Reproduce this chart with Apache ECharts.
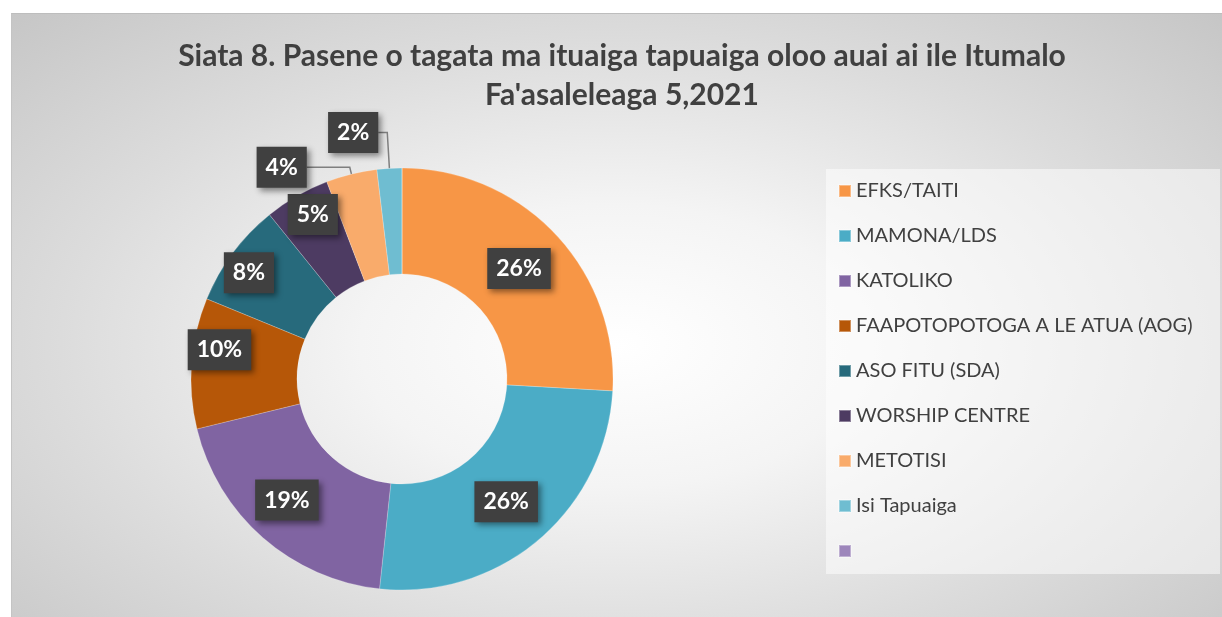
<!DOCTYPE html>
<html>
<head>
<meta charset="utf-8">
<script src="https://cdn.jsdelivr.net/npm/echarts@6/dist/echarts.min.js"></script>
<style>
    html, body { margin: 0; padding: 0; background: #fff; }
    #main {
        position: absolute;
        left: 11px;
        top: 13px;
        width: 1211px;
        height: 604px;
        border-top: 1px solid #bdbdbd;
        border-left: 1px solid #c4c4c4;
        box-sizing: border-box;
        background: radial-gradient(ellipse farthest-corner at 50% 55%, #ffffff 0%, #f4f4f4 30%, #dcdcdc 65%, #c6c6c6 100%);
    }
</style>
</head>
<body>
<div id="main"></div>
<script>
    // categories + shares (percent)
    const categories = ['EFKS/TAITI', 'MAMONA/LDS', 'KATOLIKO', 'FAAPOTOPOTOGA A LE ATUA (AOG)',
        'ASO FITU (SDA)', 'WORSHIP CENTRE', 'METOTISI', 'Isi Tapuaiga', ' '];
    const shares = [25.9, 25.8, 19.5, 10.0, 8.0, 5.0, 3.9, 1.9, 0];
    const colors = ['#F79646', '#4BACC6', '#8064A2', '#B65708', '#276A7C', '#4D3B62', '#F9AB6B', '#6FBDD1', '#9D86BB'];

    let myChart = echarts.init(document.getElementById('main'));

    // small slices get their labels pulled out with a leader line
    let pieData = categories.map(function (name, i) {
        let item = {name: name, value: shares[i]};
        if (i === 6) {
            item.label = {position: 'outside'};
            item.labelLine = {show: true, length: 7, length2: 43};
        } else if (i === 7) {
            item.label = {position: 'outside'};
            item.labelLine = {show: true, length: 36, length2: 9};
        } else if (shares[i] === 0) {
            item.label = {show: false};
        }
        return item;
    });

    // nudges for the labels Excel placed off the ring middle
    let nudge = {2: [-9, 0], 3: [-22, -17], 4: [-24, -10], 5: [-9, -25]};

    let option = {
        animation: false,
        color: colors,
        title: {
            text: "Siata 8. Pasene o tagata ma ituaiga tapuaiga oloo auai ai ile Itumalo\nFa'asaleleaga 5,2021",
            left: 605,
            top: 18,
            textAlign: 'center',
            textStyle: {
                fontFamily: 'Lato',
                fontSize: 30,
                fontWeight: 'bold',
                color: '#404040',
                lineHeight: 39
            }
        },
        legend: {
            orient: 'vertical',
            left: 814,
            top: 155,
            padding: [12, 12, 13, 12],
            itemWidth: 12,
            itemHeight: 12,
            itemGap: 25,
            icon: 'rect',
            backgroundColor: 'rgba(255,255,255,0.5)',
            selectedMode: false,
            textStyle: {
                fontFamily: 'Lato',
                fontSize: 20,
                color: '#404040',
                lineHeight: 20,
                width: 352
            },
            data: categories
        },
        series: [
            {
                type: 'pie',
                center: [390, 365],
                radius: [105, 211],
                startAngle: 90,
                clockwise: true,
                percentPrecision: 0,
                avoidLabelOverlap: false,
                itemStyle: {
                    borderColor: 'rgba(255,255,255,0.35)',
                    borderWidth: 0.6
                },
                emphasis: {scale: false},
                label: {
                    show: true,
                    position: 'inside',
                    formatter: '{d}%',
                    fontFamily: 'Lato',
                    fontSize: 23,
                    fontWeight: 'bold',
                    color: '#ffffff',
                    lineHeight: 23,
                    backgroundColor: '#404040',
                    padding: [9, 9, 9, 9],
                    shadowColor: 'rgba(0,0,0,0.45)',
                    shadowBlur: 6,
                    shadowOffsetX: 3,
                    shadowOffsetY: 3,
                    distanceToLabelLine: 0
                },
                labelLine: {
                    show: false,
                    smooth: false,
                    lineStyle: {color: '#7f7f7f', width: 1.5}
                },
                labelLayout: function (params) {
                    let n = nudge[params.dataIndex];
                    if (n) {
                        return {dx: n[0], dy: n[1]};
                    }
                    return {};
                },
                data: pieData
            }
        ]
    };
    myChart.setOption(option);
</script>
</body>
</html>
